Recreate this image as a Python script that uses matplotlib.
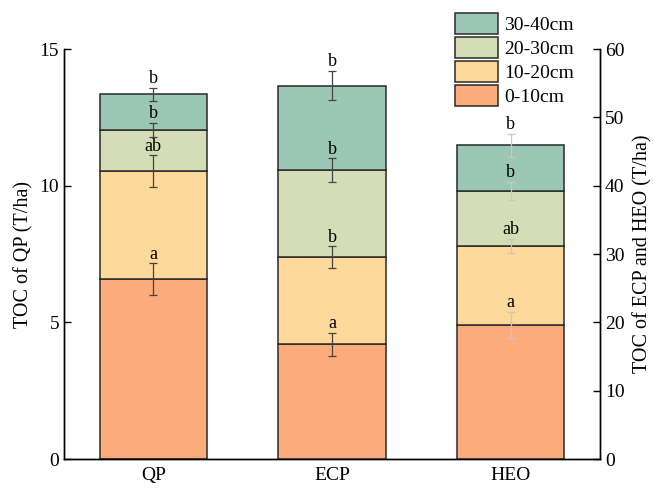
import numpy as np
import matplotlib
matplotlib.use('Agg')
from matplotlib import pyplot as plt
from matplotlib.patches import Patch

plt.rcParams['font.family'] = ['Liberation Serif', 'DejaVu Serif']

sites = ['QP', 'ECP', 'HEO']
layers = ['0-10cm', '10-20cm', '20-30cm', '30-40cm']
colors = ['#FCAB7C', '#FED99C', '#D4DDB6', '#9AC7B6']

# layer TOC (T/ha); QP on the left axis, ECP/HEO on the right axis
toc = {
    'QP':  [6.59, 3.95, 1.50, 1.30],
    'ECP': [16.79, 12.73, 12.77, 12.34],
    'HEO': [19.61, 11.56, 8.10, 6.68],
}
err = {
    'QP':  [0.57, 0.57, 0.25, 0.25],
    'ECP': [1.71, 1.59, 1.71, 2.15],
    'HEO': [1.95, 1.02, 1.30, 1.68],
}
letters = {
    'QP':  ['a', 'ab', 'b', 'b'],
    'ECP': ['a', 'b', 'b', 'b'],
    'HEO': ['a', 'ab', 'b', 'b'],
}
err_colors = {'QP': '#444444', 'ECP': '#444444', 'HEO': '#c8c8c8'}

fig = plt.figure(figsize=(6.53, 4.9), dpi=100)
ax = fig.add_axes([0.098, 0.063, 0.821, 0.837])
ax2 = ax.twinx()

width = 0.6
for i, site in enumerate(sites):
    target = ax if site == 'QP' else ax2
    bottom = 0
    for j in range(len(layers)):
        h = toc[site][j]
        target.bar(i, h, width, bottom=bottom, color=colors[j],
                   edgecolor='#2a2a2a', linewidth=1.1, zorder=2)
        top = bottom + h
        target.errorbar(i, top, yerr=err[site][j], fmt='none',
                        ecolor=err_colors[site], elinewidth=0.9,
                        capsize=3, capthick=0.9, zorder=3)
        target.annotate(letters[site][j], (i, top + err[site][j]),
                        xytext=(0, 0.5), textcoords='offset points',
                        ha='center', va='bottom', fontsize=13, zorder=4)
        bottom = top

ax.set_xlim(-0.5, 2.5)
ax.set_ylim(0, 15)
ax2.set_ylim(0, 60)
ax.set_yticks([0, 5, 10, 15])
ax2.set_yticks(np.arange(0, 61, 10))
ax.set_xticks(range(len(sites)))
ax.set_xticklabels(sites)

for a in (ax, ax2):
    a.spines['top'].set_visible(False)
    a.tick_params(direction='in', labelsize=14, length=5, width=1)
    for s in a.spines.values():
        s.set_linewidth(1)
ax.tick_params(axis='x', pad=6)

ax.set_ylabel('TOC of QP (T/ha)', fontsize=14.5, labelpad=4)
ax2.set_ylabel('TOC of ECP and HEO (T/ha)', fontsize=14.5, labelpad=6)

handles = [Patch(facecolor=colors[j], edgecolor='#2a2a2a', linewidth=1.1,
                 label=layers[j]) for j in range(len(layers))][::-1]
fig.legend(handles=handles, loc='upper left', bbox_to_anchor=(0.697, 0.973),
           frameon=False, fontsize=14, handlelength=2.2, handleheight=1.27,
           labelspacing=0.15, handletextpad=0.3, borderaxespad=0,
           borderpad=0)

fig.savefig('out.png', dpi=100)
